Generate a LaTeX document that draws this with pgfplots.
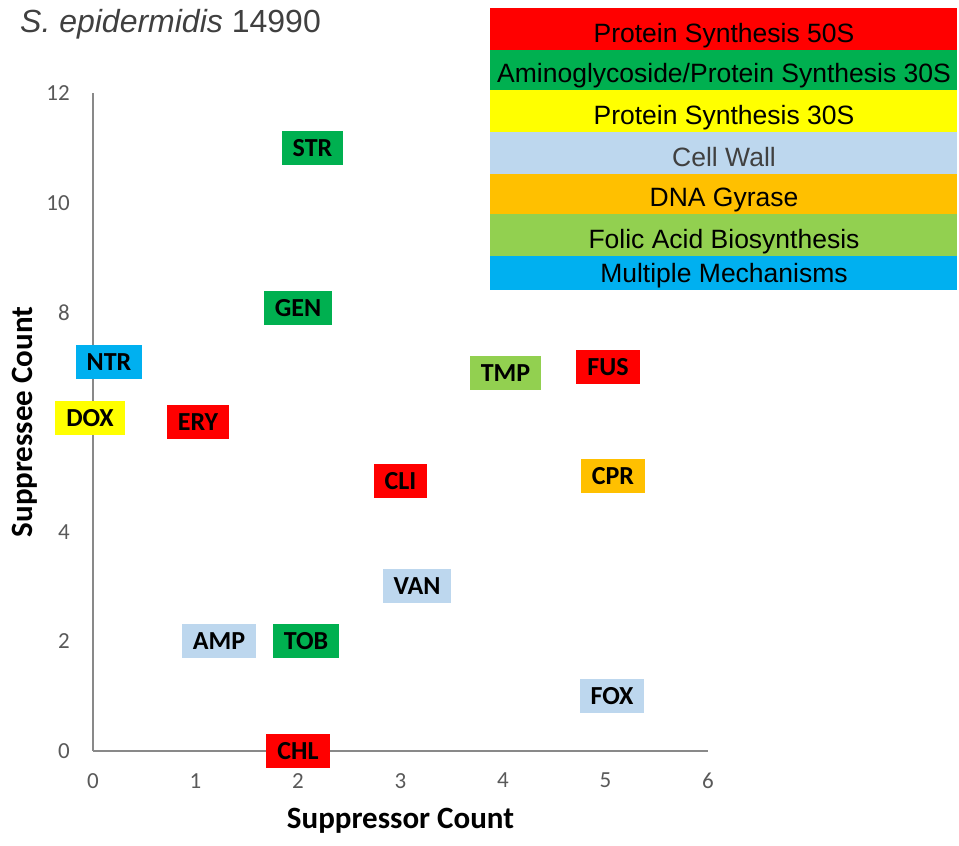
\documentclass[border=0pt]{standalone}
\usepackage{pgfplots}
\pgfplotsset{compat=1.18}
\usepackage{fontspec}
\setmainfont{Carlito}
\newfontfamily\arial{Liberation Sans}
\definecolor{cRed}{HTML}{FF0000}
\definecolor{cGreen}{HTML}{00B050}
\definecolor{cYellow}{HTML}{FFFF00}
\definecolor{cLBlue}{HTML}{BDD7EE}
\definecolor{cOrange}{HTML}{FFC000}
\definecolor{cLGreen}{HTML}{92D050}
\definecolor{cBlue}{HTML}{00B0F0}
\definecolor{axisgray}{HTML}{898989}
\definecolor{tickgray}{HTML}{595959}
\definecolor{titlegray}{HTML}{404040}
\newcommand{\labfont}{\bfseries\fontsize{26bp}{30bp}\selectfont}
\newcommand{\legfont}{\arial\fontsize{26.5bp}{30bp}\selectfont}
\pgfplotsset{
  layers/mylayers/.define layer set={axis background,axis grid,axis ticks,axis lines,pre main,main,axis descriptions,axis foreground,axis tick labels}{},
  lab/.style n args={3}{draw=none, mark=none, nodes near coords, point meta=explicit symbolic,
    every node near coord/.style={fill=#1, text=black, font=\labfont, inner xsep=11bp, inner ysep=0pt,
      minimum height=34bp, anchor=center, xshift=#2bp, yshift=#3bp}}
}
\begin{document}
\begin{tikzpicture}
\begin{axis}[at={(93bp,95bp)}, anchor=south west, scale only axis,
  width=615bp, height=658bp,
  xmin=0, xmax=6, ymin=0, ymax=12,
  xtick={0,1,2,3,4,5,6}, ytick={0,2,4,6,8,10,12},
  axis lines*=left,
  axis line style={draw=axisgray, line width=1.5bp},
  major tick length=0pt,
  set layers=mylayers,
  tick label style={font=\fontsize{23bp}{26bp}\selectfont, text=tickgray},
  /pgf/number format/assume math mode=true,
  xticklabel style={anchor=north, inner sep=0pt, yshift=-22bp},
  yticklabel style={anchor=east, inner sep=0pt, xshift=-23bp},
  xlabel={Suppressor Count}, ylabel={Suppressee Count},
  label style={font=\bfseries\fontsize{31bp}{34bp}\selectfont, text=black},
  xlabel style={at={(axis description cs:0.5,-0.1185)}, anchor=base},
  ylabel style={at={(axis description cs:-0.0976,0.5)}, anchor=base},
  clip=false]
\addplot[lab={cGreen}{14.5}{0}] coordinates {(2,11) [STR]};
\addplot[lab={cGreen}{0}{4}] coordinates {(2,8) [GEN]};
\addplot[lab={cBlue}{16}{5}] coordinates {(0,7) [NTR]};
\addplot[lab={cYellow}{-3}{4}] coordinates {(0,6) [DOX]};
\addplot[lab={cRed}{2.5}{0}] coordinates {(1,6) [ERY]};
\addplot[lab={cRed}{0}{0}] coordinates {(2,0) [CHL]};
\addplot[lab={cLBlue}{23.5}{0}] coordinates {(1,2) [AMP]};
\addplot[lab={cGreen}{8}{0}] coordinates {(2,2) [TOB]};
\addplot[lab={cLGreen}{2.5}{-6}] coordinates {(4,7) [TMP]};
\addplot[lab={cRed}{2.5}{0}] coordinates {(5,7) [FUS]};
\addplot[lab={cOrange}{7.5}{1}] coordinates {(5,5) [CPR]};
\addplot[lab={cRed}{0}{-4}] coordinates {(3,5) [CLI]};
\addplot[lab={cLBlue}{16.5}{0}] coordinates {(3,3) [VAN]};
\addplot[lab={cLBlue}{6.5}{0}] coordinates {(5,1) [FOX]};
\end{axis}
% title
\node[anchor=base west, inner sep=0pt, font=\arial\fontsize{32bp}{36bp}\selectfont, text=titlegray]
  at (20bp,813bp) {\textit{S. epidermidis} 14990};
% legend
\fill[cRed] (490bp,796bp) rectangle (957bp,838bp);
\fill[cGreen] (490bp,756bp) rectangle (957bp,796bp);
\fill[cYellow] (490bp,714bp) rectangle (957bp,756bp);
\fill[cLBlue] (490bp,672bp) rectangle (957bp,714bp);
\fill[cOrange] (490bp,632bp) rectangle (957bp,672bp);
\fill[cLGreen] (490bp,590bp) rectangle (957bp,632bp);
\fill[cBlue] (490bp,556bp) rectangle (957bp,590bp);
\node[anchor=base, inner sep=0pt, font=\legfont] at (724bp,803bp) {Protein Synthesis 50S};
\node[anchor=base, inner sep=0pt, font=\legfont] at (724bp,763bp) {Aminoglycoside/Protein Synthesis 30S};
\node[anchor=base, inner sep=0pt, font=\legfont] at (724bp,721bp) {Protein Synthesis 30S};
\node[anchor=base, inner sep=0pt, font=\legfont, text=titlegray] at (724bp,679bp) {Cell Wall};
\node[anchor=base, inner sep=0pt, font=\legfont] at (724bp,639bp) {DNA Gyrase};
\node[anchor=base, inner sep=0pt, font=\legfont] at (724bp,597bp) {Folic Acid Biosynthesis};
\node[anchor=base, inner sep=0pt, font=\legfont] at (724bp,563bp) {Multiple Mechanisms};
\pgfresetboundingbox
\path[use as bounding box] (0bp,0bp) rectangle (959bp,846bp);
\end{tikzpicture}
\end{document}
